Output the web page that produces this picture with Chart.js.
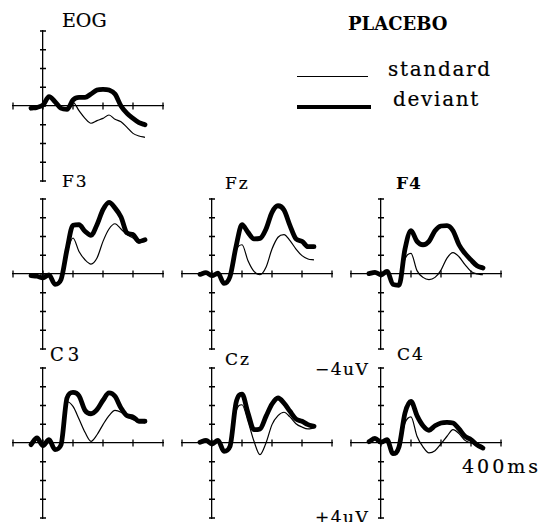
<!DOCTYPE html>
<html>
<head>
<meta charset="utf-8">
<script src="https://cdn.jsdelivr.net/npm/chart.js@4"></script>
<style>
  html, body { margin: 0; padding: 0; background: #fff; }
  #page { position: relative; width: 542px; height: 522px; overflow: hidden; background: #fff; }
  .panel { position: absolute; width: 160px; height: 160px; }
  .txt { position: absolute; font-family: 'DejaVu Serif', serif; color: #000; line-height: 1; white-space: nowrap; -webkit-text-stroke: 0.2px #000; }
  .swatch { position: absolute; background: #000; }
</style>
</head>
<body>
<div id="page">
  <div class="txt" style="left:62px;top:11px;font-size:19px;">EOG</div>
  <div class="txt" style="left:348px;top:15px;font-size:18px;font-weight:bold;-webkit-text-stroke:0;">PLACEBO</div>
  <div class="swatch" style="left:297px;top:76px;width:71px;height:1.3px;"></div>
  <div class="txt" style="left:388px;top:59px;font-size:20px;letter-spacing:1.7px;">standard</div>
  <div class="swatch" style="left:297px;top:105px;width:74px;height:4px;"></div>
  <div class="txt" style="left:393px;top:89px;font-size:20px;letter-spacing:1.7px;">deviant</div>

  <div class="txt" style="left:62px;top:173px;font-size:17px;letter-spacing:2px;">F3</div>
  <div class="txt" style="left:225px;top:175px;font-size:17px;letter-spacing:2px;">Fz</div>
  <div class="txt" style="left:396px;top:175px;font-size:17px;font-weight:bold;letter-spacing:1px;-webkit-text-stroke:0;">F4</div>
  <div class="txt" style="left:50px;top:346px;font-size:18px;letter-spacing:4px;">C3</div>
  <div class="txt" style="left:225px;top:351px;font-size:17px;letter-spacing:2px;">Cz</div>
  <div class="txt" style="left:397px;top:346px;font-size:17px;letter-spacing:2px;">C4</div>

  <div class="txt" style="left:315px;top:361px;font-size:17px;letter-spacing:1.5px;">−4uV</div>
  <div class="txt" style="left:315px;top:509px;font-size:17px;letter-spacing:1.5px;">+4uV</div>
  <div class="txt" style="left:462px;top:457px;font-size:19px;letter-spacing:3px;">400ms</div>
</div>
<script>
// time base (ms) shared by every trace, plus axis tick steps
const timesMs = [-40, -20, 0, 20, 40, 60, 80, 100, 120, 140, 160, 180, 200, 220, 240, 260, 280, 300, 320, 340];
const timeStepMs = 100;
const uvStep = 1;

// amplitudes in uV, negative is up
const eogStandard = [0.12, 0.07, -0.05, -0.46, -0.23, 0.12, 0.18, -0.2, 0.25, 0.66, 0.92, 0.78, 0.66, 0.48, 0.71, 0.84, 1.14, 1.46, 1.6, 1.67];
const eogDeviant  = [0.12, 0.07, -0.05, -0.5, -0.23, 0.12, 0.18, -0.32, -0.46, -0.46, -0.64, -0.85, -0.89, -0.85, -0.64, 0, 0.39, 0.66, 0.89, 1.0];

const f3Standard = [0.09, 0.12, 0.2, 0.05, 0.55, 0.3, -1.12, -1.92, -1.2, -0.76, -0.53, -0.85, -1.74, -2.4, -2.68, -2.4, -2.1, -1.92, -1.65, -1.74];
const f3Deviant  = [0.09, 0.12, 0.2, 0.05, 0.55, 0.3, -1.3, -2.6, -2.63, -2.28, -2.06, -2.63, -3.43, -3.82, -3.52, -3.04, -2.19, -2.1, -1.74, -1.83];

const fzStandard = [0.02, -0.07, 0.09, -0.04, 0.5, 0.14, -1.25, -1.56, -0.71, -0.14, 0.04, -0.36, -1.33, -1.96, -2.1, -1.78, -1.33, -0.98, -0.8, -0.75];
const fzDeviant  = [0.02, -0.07, 0.09, -0.04, 0.5, 0.14, -1.45, -2.63, -2.22, -1.87, -1.9, -2.4, -3.29, -3.64, -3.41, -2.58, -1.87, -1.74, -1.46, -1.46];

const f4Standard = [-0.02, -0.09, 0.04, -0.14, 0.55, 0.6, -0.8, -1.1, -0.18, 0.18, 0.3, 0.18, -0.21, -0.85, -1.14, -0.92, -0.5, -0.14, 0, 0.04];
const f4Deviant  = [-0.02, -0.09, 0.04, -0.14, 0.55, 0.6, -1.33, -2.31, -1.74, -1.56, -1.74, -2.31, -2.56, -2.58, -2.31, -1.56, -1.1, -0.75, -0.44, -0.32];

const c3Standard = [0.09, -0.27, 0.14, -0.18, 0.35, 0.1, -2.2, -1.95, -1.28, -0.57, -0.09, -0.44, -0.98, -1.46, -1.74, -1.64, -1.39, -1.24, -1.14, -1.07];
const c3Deviant  = [0.09, -0.27, 0.14, -0.18, 0.35, 0.1, -2.4, -2.7, -2.52, -1.74, -1.56, -1.78, -2.28, -2.67, -2.49, -1.87, -1.46, -1.39, -1.16, -1.16];

const czStandard = [-0.04, -0.14, 0.04, -0.14, 0.44, 0.18, -1.69, -2.04, -1.16, -0.09, 0.62, 0, -0.98, -1.46, -1.64, -1.39, -1.03, -0.85, -0.75, -0.8];
const czDeviant  = [-0.04, -0.14, 0.04, -0.14, 0.44, 0.18, -2.13, -2.61, -1.6, -0.71, -0.75, -1.42, -2.08, -2.4, -2.13, -1.69, -1.28, -1.16, -0.98, -0.89];

const c4Standard = [-0.07, -0.25, -0.04, -0.18, 0.57, 0.21, -1.07, -1.39, -0.36, 0.21, 0.53, 0.41, 0.04, -0.36, -0.71, -0.5, -0.14, 0, 0.09, 0.14];
const c4Deviant  = [-0.07, -0.25, -0.04, -0.18, 0.57, 0.21, -1.6, -2.22, -1.46, -0.92, -0.68, -0.92, -1.07, -1.1, -1.07, -0.75, -0.36, -0.18, 0.09, 0.27];

// panel origin (0 ms, 0 uV) on the page
const panels = [
  { std: eogStandard, dev: eogDeviant, ox: 43,  oy: 106 },
  { std: f3Standard,  dev: f3Deviant,  ox: 43,  oy: 274 },
  { std: fzStandard,  dev: fzDeviant,  ox: 212, oy: 274 },
  { std: f4Standard,  dev: f4Deviant,  ox: 381, oy: 274 },
  { std: c3Standard,  dev: c3Deviant,  ox: 43,  oy: 443 },
  { std: czStandard,  dev: czDeviant,  ox: 212, oy: 443 },
  { std: c4Standard,  dev: c4Deviant,  ox: 381, oy: 443 }
];

// tick marks that cross the axis on both sides
const crossTicks = {
  id: 'crossTicks',
  afterDraw(chart) {
    const { ctx, scales: { x, y } } = chart;
    const x0 = x.getPixelForValue(0), y0 = y.getPixelForValue(0);
    ctx.save();
    ctx.strokeStyle = '#000';
    ctx.lineWidth = 1.3;
    ctx.beginPath();
    x.ticks.forEach(t => { const px = x.getPixelForValue(t.value); ctx.moveTo(px, y0 - 3.5); ctx.lineTo(px, y0 + 3.5); });
    y.ticks.forEach(t => { const py = y.getPixelForValue(t.value); ctx.moveTo(x0 - 3, py); ctx.lineTo(x0 + 3, py); });
    ctx.stroke();
    ctx.restore();
  }
};

const page = document.getElementById('page');
const toPoints = arr => timesMs.map((t, i) => ({ x: t, y: arr[i] }));

panels.forEach(p => {
  const canvas = document.createElement('canvas');
  canvas.className = 'panel';
  canvas.width = 160; canvas.height = 160;
  canvas.style.left = (p.ox - 35) + 'px';
  canvas.style.top = (p.oy - 80) + 'px';
  page.appendChild(canvas);
  new Chart(canvas.getContext('2d'), {
    type: 'line',
    data: { datasets: [
      { label: 'deviant', data: toPoints(p.dev), borderColor: '#000', borderWidth: 4.8, pointRadius: 0, cubicInterpolationMode: 'monotone', clip: 6, borderJoinStyle: 'round', borderCapStyle: 'round' },
      { label: 'standard', data: toPoints(p.std), borderColor: '#000', borderWidth: 1.2, pointRadius: 0, cubicInterpolationMode: 'monotone', clip: 6 }
    ]},
    options: {
      responsive: false, animation: false, devicePixelRatio: 1,
      layout: { padding: 5 },
      plugins: { legend: { display: false }, tooltip: { enabled: false } },
      scales: {
        x: { type: 'linear', min: -100, max: 400, position: { y: 0 },
             ticks: { display: false, stepSize: timeStepMs }, grid: { display: false },
             border: { display: true, color: '#000', width: 1.3 } },
        y: { type: 'linear', min: -4, max: 4, reverse: true, position: { x: 0 },
             ticks: { display: false, stepSize: uvStep }, grid: { display: false },
             border: { display: true, color: '#000', width: 1.3 } }
      }
    },
    plugins: [crossTicks]
  });
});
</script>
</body>
</html>
